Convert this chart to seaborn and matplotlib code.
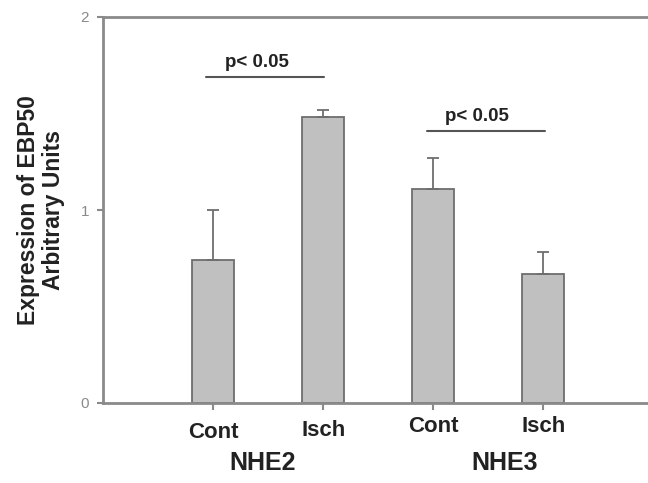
import matplotlib
matplotlib.use("Agg")
import matplotlib.pyplot as plt
import matplotlib.transforms as mtransforms
import seaborn as sns
import pandas as pd

# ---- data ----
conditions = ["Cont", "Isch", "Cont", "Isch"]
groups = ["NHE2", "NHE2", "NHE3", "NHE3"]
bar_ids = ["NHE2 Cont", "NHE2 Isch", "NHE3 Cont", "NHE3 Isch"]
values = [0.74, 1.48, 1.11, 0.67]
err_up = [0.26, 0.04, 0.16, 0.11]
sig_pairs = [(0, 1), (2, 3)]
sig_heights = [1.69, 1.41]
sig_labels = ["p< 0.05", "p< 0.05"]
y_ticks = [0, 1, 2]

sns.set_theme(style="white")
plt.rcParams["font.family"] = ["Liberation Sans", "DejaVu Sans"]

df = pd.DataFrame({"bar": bar_ids, "value": values})

fig = plt.figure(figsize=(6.48, 4.83), dpi=100)
ax = fig.add_axes([103 / 648, 1 - 403 / 483, 1 - 103 / 648, (403 - 17) / 483])

sns.barplot(data=df, x="bar", y="value", order=bar_ids, color="#c0c0c0",
            saturation=1, width=0.38, edgecolor="#6e6e6e", linewidth=1.3,
            errorbar=None, ax=ax)
ax.errorbar(range(len(values)), values, yerr=[[0] * len(values), err_up],
            fmt="none", ecolor="#6e6e6e", elinewidth=1.3, capsize=4, capthick=1.3)

ax.set_xlim(-1.0, 3.95)
ax.set_ylim(0, 2)

for s in ["left", "bottom", "top"]:
    ax.spines[s].set_visible(True)
    ax.spines[s].set_color("#8a8a8a")
    ax.spines[s].set_linewidth(2)
ax.spines["right"].set_visible(False)

ax.set_yticks(y_ticks)
ax.set_yticklabels([str(t) for t in y_ticks], fontsize=11, color="#8a8a8a")
ax.tick_params(axis="y", left=True, length=4, width=1.5, color="#8a8a8a", pad=6)
ax.set_xticks(range(len(values)))
ax.set_xticklabels([])
ax.tick_params(axis="x", bottom=True, length=5, width=1.5, color="#8a8a8a")
ax.set_xlabel("")
ax.set_ylabel("Expression of EBP50\nArbitrary Units", fontsize=16.5,
              fontweight="bold", color="#222222", linespacing=1.1)
ax.yaxis.set_label_coords(-0.07, 0.5)

trans = mtransforms.blended_transform_factory(ax.transData, fig.transFigure)
label_y = [432, 430, 427, 427]
for i, (c, yy) in enumerate(zip(conditions, label_y)):
    ax.text(i, 1 - yy / 483, c, transform=trans, ha="center", va="center",
            fontsize=16, fontweight="bold", color="#222222")
group_names = ["NHE2", "NHE3"]
group_x = [0.45, 2.65]
for g, gx in zip(group_names, group_x):
    ax.text(gx, 1 - 463 / 483, g, transform=trans, ha="center", va="center",
            fontsize=18, fontweight="bold", color="#222222")

for (a, b), h, lab in zip(sig_pairs, sig_heights, sig_labels):
    ax.plot([a - 0.06, b + 0.01], [h, h], color="#555555", lw=1.5, clip_on=False)
    ax.text((a + b) / 2 - 0.1, h + 0.03, lab, ha="center", va="bottom",
            fontsize=13.5, fontweight="bold", color="#222222")

fig.savefig("out.png", dpi=100)
